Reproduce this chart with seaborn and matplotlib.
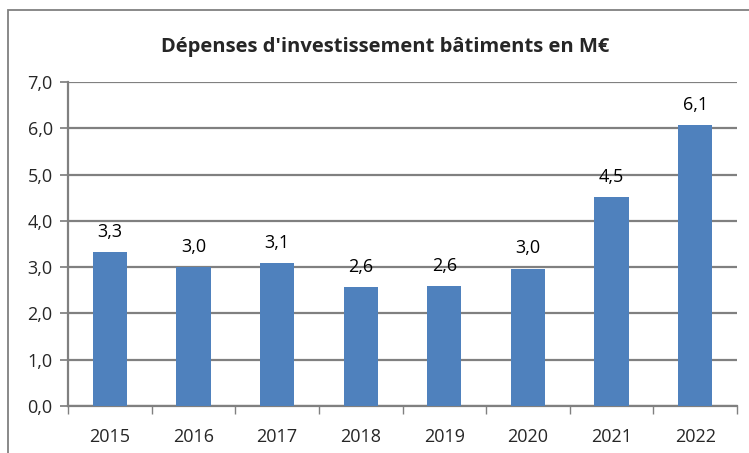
import matplotlib
matplotlib.use("Agg")
import matplotlib.pyplot as plt
import matplotlib.patches as mpatches
import seaborn as sns
import pandas as pd

# Data
years = ["2015", "2016", "2017", "2018", "2019", "2020", "2021", "2022"]
values = [3.33, 3.0, 3.09, 2.56, 2.6, 2.97, 4.52, 6.07]
y_ticks = [0, 1, 2, 3, 4, 5, 6, 7]

df = pd.DataFrame({"annee": years, "depenses": values})

sns.set_theme(style="white")
plt.rcParams["font.family"] = ["Open Sans", "DejaVu Sans"]

fig = plt.figure(figsize=(7.49, 4.53), dpi=100)
ax = fig.add_axes([0.0908, 0.1038, 0.8932, 0.7152])

sns.barplot(data=df, x="annee", y="depenses", color="#4F81BD", saturation=1,
            width=0.41, ax=ax, zorder=3, linewidth=0)

ax.set_ylim(0, 7)
ax.set_xlim(-0.5, len(years) - 0.5)
ax.set_yticks(y_ticks)
ax.set_yticklabels([f"{v:.1f}".replace(".", ",") for v in y_ticks], fontsize=13)
ax.set_xticks(range(len(years)))
ax.set_xticklabels(years, fontsize=13)
ax.tick_params(axis="x", length=0, pad=16)
ax.tick_params(axis="y", length=6, direction="out", color="#808080", pad=5, left=True)

# minor ticks between categories on x axis
ax.set_xticks([i - 0.5 for i in range(len(years) + 1)], minor=True)
ax.tick_params(axis="x", which="minor", length=6, direction="out", color="#808080", bottom=True)

ax.yaxis.grid(True, color="#808080", linewidth=1.6, zorder=0)
ax.set_axisbelow(True)
for side in ["top", "right"]:
    ax.spines[side].set_visible(False)
for side in ["left", "bottom"]:
    ax.spines[side].set_color("#808080")
    ax.spines[side].set_linewidth(1.6)

ax.set_xlabel("")
ax.set_ylabel("")

# value labels
for i, v in enumerate(values):
    ax.text(i, v + 0.24, f"{v:.1f}".replace(".", ","), ha="center", va="bottom",
            fontsize=13, color="black")

fig.text(0.514, 0.897, "Dépenses d'investissement bâtiments en M€", ha="center",
         va="center", fontsize=14.5, fontweight="bold")

# outer chart frame (cut off at right and bottom)
frame = mpatches.Rectangle((0.011, -0.05), 1.1, 1.028, transform=fig.transFigure,
                           fill=False, edgecolor="#808080", linewidth=1.3)
fig.patches.append(frame)

fig.savefig("out.png", dpi=100)
